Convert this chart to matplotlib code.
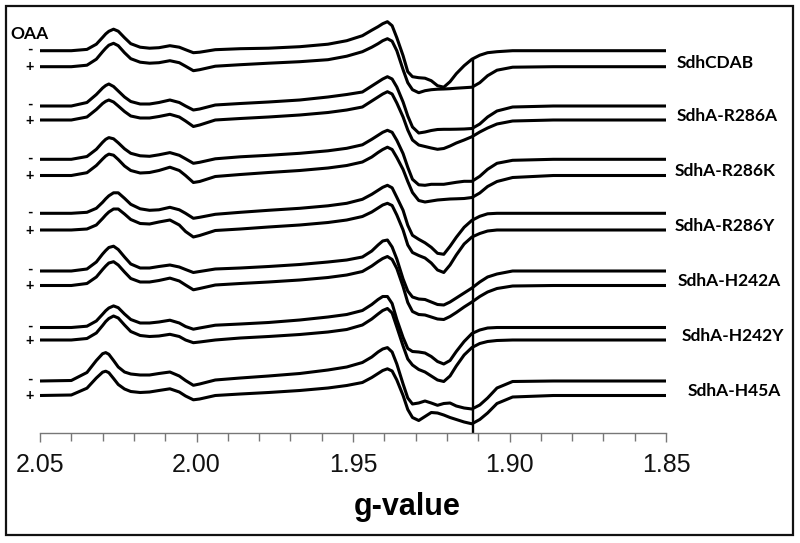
import matplotlib
matplotlib.use("Agg")
import matplotlib.pyplot as plt
from matplotlib.patches import Rectangle
from matplotlib.transforms import blended_transform_factory
from matplotlib.ticker import MultipleLocator, FormatStrFormatter

# ---------------- data ----------------
g_values = [2.0500, 2.0400, 2.0350, 2.0320, 2.0300, 2.0290, 2.0280, 2.0265, 2.0250, 2.0230,
            2.0210, 2.0180, 2.0150, 2.0120, 2.0085, 2.0055, 2.0035, 2.0010, 1.9990, 1.9940,
            1.9860, 1.9770, 1.9670, 1.9580, 1.9520, 1.9470, 1.9440, 1.9420, 1.9405, 1.9390,
            1.9375, 1.9360, 1.9340, 1.9325, 1.9310, 1.9290, 1.9270, 1.9250, 1.9230, 1.9210,
            1.9190, 1.9170, 1.9145, 1.9120, 1.9095, 1.9070, 1.9040, 1.8990, 1.8860, 1.8670,
            1.8500]

samples = ["SdhCDAB", "SdhA-R286A", "SdhA-R286K", "SdhA-R286Y",
           "SdhA-H242A", "SdhA-H242Y", "SdhA-H45A"]

# EPR signal (arbitrary units), without OAA ("-") and with OAA ("+")
sdhcdab_minus = [0, 0, 1.3, 6.5, 13.3, 16.8, 19.4, 21.5, 19.5, 13, 7, 3.5,
                 2.5, 3, 5, 3.5, 1, -2, -1.5, 1, 2, 2.5, 4, 6.5, 10, 15, 20.5, 24, 27, 29,
                 25, 13, -5, -21, -26, -27, -27.5, -30, -35, -36.5, -31, -23, -15, -8.5, -4.5,
                 -2, -1, 0, 0, 0, 0]
sdhcdab_plus = [0, 0, 1.5, 7.5, 15, 18.5, 21.5, 23.4, 21, 14, 8, 4.5,
                3.5, 4, 6, 4, 0.5, -4, -3, 0.5, 2, 3.5, 5, 7, 10.5, 15, 19.5, 23, 26, 28,
                25.5, 16, -3, -16, -23, -26, -24, -23, -22.5, -22.3, -22, -21.5, -21, -20.5, -16,
                -9, -3.5, -0.5, 0, 0, 0]
r286a_minus = [0, 0, 3.5, 11.5, 18, 20.5, 22, 19.5, 15, 9, 4.5, 2,
               2, 3.5, 6, 3.5, 0, -4, -3, 1, 2.5, 4, 6, 9, 11.5, 14, 20, 24, 27, 29.3,
               27, 19, 4, -10, -21, -27, -26, -24.5, -23.5, -23.3, -23.3, -23.2, -23, -22.5, -18,
               -11, -5, -1, 0, 0, 0]
r286a_plus = [0, 0, 3, 10.5, 16.5, 18.7, 20, 18, 14, 8.5, 4, 2,
              2, 3.5, 5.7, 3, -1, -6.5, -5, 0, 1.5, 3, 5, 7.5, 10, 13, 19, 23, 26, 28.3,
              26, 17, 3, -10, -20, -25, -26.5, -28, -29.3, -28.5, -26, -23, -20, -16.7, -12,
              -8, -4, -1, 0, 0, 0]
r286k_minus = [0, 0, 2.8, 10, 17, 20, 21.7, 20.5, 16.5, 10.5, 6, 3.5,
               3, 4.5, 6.7, 4, 0.5, -4, -3, 0.5, 2.5, 4, 6, 8.5, 11, 14.5, 20, 24, 27, 29,
               27, 19, 5.7, -8, -20, -25.5, -26, -25, -25, -25, -24, -23, -22, -22, -17,
               -10, -4, -1, 0, 0, 0]
r286k_plus = [0, 0, 2.8, 10, 16.5, 19.5, 21.4, 20.3, 16, 9.5, 5, 2.5,
              3, 5, 8.3, 5, 0, -7, -6, -1, 1, 3, 5, 7.5, 10, 13.5, 18.5, 23, 26, 28.3,
              26, 18, 6, -6, -17, -25, -26.5, -25.5, -24.5, -24, -23.5, -23.3, -23, -22, -17.5,
              -11, -6, -2, 0, 0, 0]
r286y_minus = [0, 0, 1, 5, 11, 14.5, 17.5, 20.5, 20.5, 15, 9, 4.5,
               3, 3.5, 6, 3.5, 0, -5, -4, -1, 1, 3, 5, 7.5, 10, 14, 19, 23, 26, 28,
               25.5, 16, 3, -12, -22, -26, -29.5, -34, -40, -41, -33, -24, -14, -7, -3,
               -0.5, 0, 0, 0, 0, 0]
r286y_plus = [0, 0, 1, 5, 11.5, 15, 18, 21, 21, 16, 10.5, 6.5,
              6, 8, 10, 5, -1.5, -7, -5.5, -0.5, 1, 3, 5, 7.5, 10, 13.5, 18, 22, 25, 26.7,
              24.5, 15, 0, -15, -22.5, -25.5, -28, -33, -40, -42.5, -35, -25, -14, -7, -3.5,
              -1, 0, 0, 0, 0, 0]
h242a_minus = [0, 0, 2, 9, 17, 20.5, 23.5, 24.8, 21.5, 14, 7, 3,
               3, 4.5, 6, 4, 1.5, -1.5, -0.5, 2, 3, 4.5, 6.5, 9, 11, 14, 20, 26, 30, 31,
               24, 12, -8, -20, -26, -28, -28.5, -31, -33.5, -34, -31, -27, -22, -17, -11,
               -6, -3, 0, 0, 0, 0]
h242a_plus = [0, 0, 2, 8.5, 16, 19.5, 22.5, 23.8, 20.5, 13.5, 7, 3.5,
              3.5, 5, 7.4, 4.5, 0.5, -4.3, -3, 0.5, 2, 3.5, 5.5, 8, 10.5, 14, 19.5, 24, 27, 29,
              26, 17, -1, -17, -26, -29, -29.5, -31.5, -33.5, -34, -31, -27, -21.5, -16.5, -11,
              -6.5, -3, -0.5, 0, 0, 0]
h242y_minus = [0, 0, 1.3, 6.5, 13.3, 16.8, 19.5, 21.6, 19.8, 13.5, 8, 4.5,
               4.5, 5.5, 7.3, 4.5, 1, -1.7, -0.5, 2.3, 3.5, 5, 7.5, 10.5, 13, 17, 23, 28, 31, 31,
               24, 8, -10, -21, -24, -24.5, -25.5, -29, -34, -36.5, -33, -24, -14, -6, -2.5,
               -0.5, 0, 0, 0, 0, 0]
h242y_plus = [0, 0, 1.5, 7, 14.5, 18.5, 21.5, 24, 22, 15, 8.5, 4.5,
              3.5, 4, 5.7, 3.5, 0, -2.7, -2, 0, 2, 3.5, 5.5, 8, 10.5, 15, 21, 26, 29.5, 31.5,
              27, 13, -6, -19, -25, -29.5, -32, -36, -40, -41.5, -36, -26, -15, -7.5, -3.5,
              -1.5, -0.5, 0, 0, 0, 0]
h45a_minus = [0, 0.5, 8.5, 20.5, 27.3, 28.4, 26.7, 20.5, 14, 9, 7, 6,
              6, 7.5, 9, 5, 0.5, -4.3, -3, 1, 3, 5, 7.5, 11, 14, 18.5, 24, 29, 32, 33.4,
              29, 17, -3, -17, -23, -22, -20, -22, -24.3, -22.5, -22, -25, -27, -28, -24,
              -17, -7, -0.5, 0, 0, 0]
h45a_plus = [0, 0.5, 7.3, 17.5, 23.3, 24.3, 22.8, 17, 11, 6.5, 4, 3,
             3.5, 5, 6.7, 3.5, -0.5, -4.3, -3.5, 0, 1.5, 3, 5, 7.5, 10, 13, 18, 22, 25, 26.7,
             24.5, 15.5, 0, -14, -22, -25, -21, -17, -17.5, -19.5, -22, -24, -26.5, -28.3, -24,
             -17.5, -8, -1.5, 0, 0, 0]

minus_spectra = [sdhcdab_minus, r286a_minus, r286k_minus, r286y_minus,
                 h242a_minus, h242y_minus, h45a_minus]
plus_spectra = [sdhcdab_plus, r286a_plus, r286k_plus, r286y_plus,
                h242a_plus, h242y_plus, h45a_plus]

# stacking offsets (vertical positions of each trace baseline)
minus_offsets = [382.3, 327.0, 273.7, 219.7, 162.0, 105.5, 52.0]
plus_offsets = [366.3, 313.0, 257.5, 203.0, 147.5, 93.0, 37.5]

g_marker = 1.9118

# ---------------- figure ----------------
W, H = 800, 543
fig = plt.figure(figsize=(W / 100, H / 100), dpi=100)
fig.patch.set_facecolor("white")

ax = fig.add_axes([40 / W, (H - 433) / H, 626 / W, 433 / H])
ax.set_xlim(2.05, 1.85)
ax.set_ylim(0, 433)
ax.patch.set_alpha(0)

for spec, off in zip(minus_spectra + plus_spectra, minus_offsets + plus_offsets):
    ax.plot(g_values, [v + off for v in spec], color="black", lw=2.2,
            solid_joinstyle="round", solid_capstyle="butt", clip_on=False)

# vertical reference line
ax.vlines(g_marker, 0, minus_offsets[0] - 7.5, color="black", lw=1.7)

for s in ["left", "right", "top"]:
    ax.spines[s].set_visible(False)
ax.spines["bottom"].set_color("#777777")
ax.spines["bottom"].set_linewidth(1.0)
ax.set_yticks([])
ax.xaxis.set_major_locator(MultipleLocator(0.05))
ax.xaxis.set_minor_locator(MultipleLocator(0.01))
ax.xaxis.set_major_formatter(FormatStrFormatter("%.2f"))
ax.tick_params(axis="x", which="both", direction="out", length=5.5, width=1.0,
               color="#777777", pad=8)
ax.tick_params(axis="x", which="major", length=6.5)
for lab in ax.get_xticklabels():
    lab.set_fontfamily("Liberation Sans")
    lab.set_fontsize(18)
    lab.set_color("#111111")

fig.text(407 / W, (H - 515) / H, "g-value", family="Liberation Sans",
         fontweight="bold", fontsize=22, ha="center", va="baseline")

# OAA and +/- labels
tr = blended_transform_factory(fig.transFigure, ax.transData)
label_font = "Lato"
fig.text(10 / W, (H - 39) / H, "OAA", family=label_font, fontweight="bold",
         fontsize=12.5, ha="left", va="baseline")
for off in minus_offsets:
    ax.text(30 / W, off + 1.0, "-", transform=tr, family=label_font,
            fontweight="bold", fontsize=10.5, ha="center", va="center")
for off in plus_offsets:
    ax.text(29.5 / W, off - 0.8, "+", transform=tr, family=label_font,
            fontweight="bold", fontsize=10.5, ha="center", va="center")

label_x = [677, 677, 675, 675, 678, 682, 688]
for name, off, lx in zip(samples, plus_offsets, label_x):
    ax.text(lx / W, off - 1, name, transform=tr, family=label_font,
            fontweight="bold", fontsize=12.5, ha="left", va="baseline")

# outer frame
fig.patches.append(Rectangle((6 / W, (H - 535) / H), 787 / W, 529 / H,
                             transform=fig.transFigure, fill=False,
                             edgecolor="#111111", lw=1.6))

fig.savefig("out.png", dpi=100, facecolor="white")
